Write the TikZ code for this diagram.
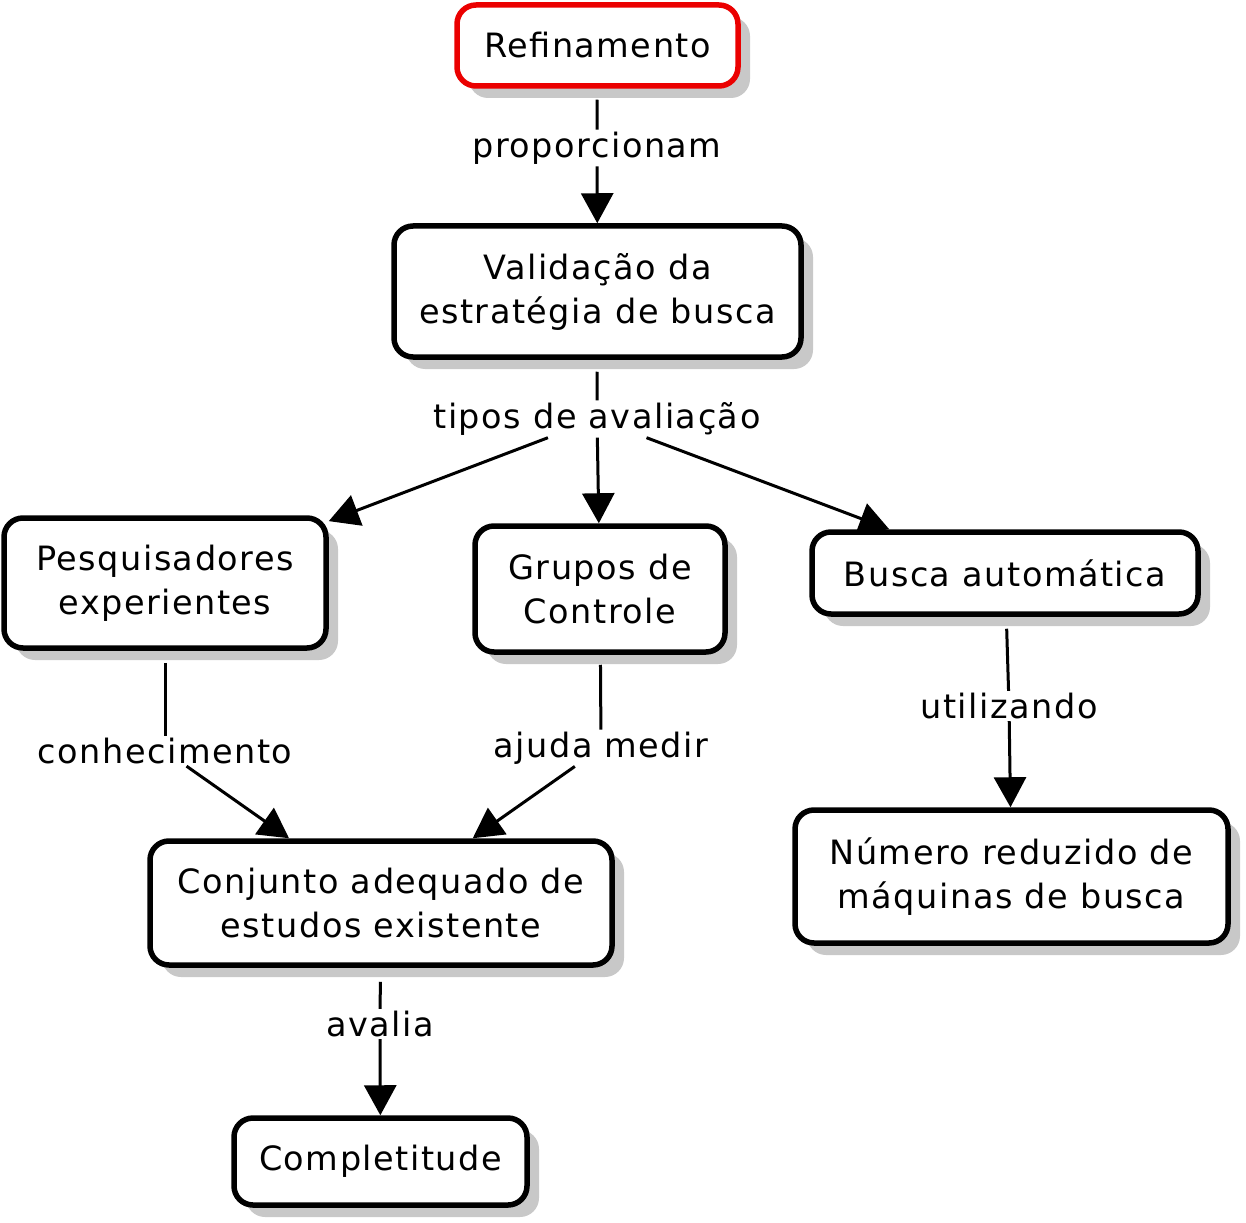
\documentclass[tikz,border=0pt]{standalone}
\usepackage{fontspec}
\setmainfont{DejaVu Sans}[LetterSpace=4.5]
\usetikzlibrary{arrows.meta,shadows}
\definecolor{shadowgray}{RGB}{200,200,200}
\definecolor{refred}{RGB}{235,0,0}
\tikzset{
  concept/.style={draw=black, line width=5.5pt, rounded corners=19pt, fill=white,
    align=center, inner sep=0pt,
    font=\fontsize{33.5}{44}\selectfont,
    drop shadow={shadow xshift=12pt, shadow yshift=-12pt, fill=shadowgray, opacity=1}},
  linkword/.style={inner sep=2pt, font=\fontsize{33.5}{44}\selectfont},
  conn/.style={line width=3pt, draw=black},
  arr/.style={conn, -{Triangle[length=30pt,width=32pt]}},
}
\begin{document}
\begin{tikzpicture}[x=1pt,y=-1pt]
\useasboundingbox (0,0) rectangle (1246,1222);

\node[concept, draw=refred, minimum width=281pt, minimum height=81pt] (ref) at (597.5,45.5) {Refinamento};
\node[concept, minimum width=407pt, minimum height=131pt] (val) at (597.5,291.5) {Validação da\\estratégia de busca};
\node[concept, minimum width=322pt, minimum height=130pt] (pes) at (165,583) {Pesquisadores\\experientes};
\node[concept, minimum width=250pt, minimum height=126pt] (gru) at (600,589) {Grupos de\\Controle};
\node[concept, minimum width=386pt, minimum height=82pt] (bus) at (1005,573) {Busca automática};
\node[concept, minimum width=462pt, minimum height=124pt] (con) at (381,903) {Conjunto adequado de\\estudos existente};
\node[concept, minimum width=433pt, minimum height=133pt] (num) at (1011.5,876.5) {Número reduzido de\\máquinas de busca};
\node[concept, minimum width=293pt, minimum height=87pt] (com) at (380.5,1161.5) {Completitude};

\node[linkword] (l1) at (597,148) {proporcionam};
\node[linkword] (l2) at (597,419) {tipos de avaliação};
\node[linkword] (l3) at (165,751) {conhecimento};
\node[linkword] (l4) at (601,748) {ajuda medir};
\node[linkword] (l5) at (1009,706) {utilizando};
\node[linkword] (l6) at (380,1024) {avalia};

\draw[conn, shorten <=11pt] (ref) -- (l1);
\draw[arr] (l1) -- (val);

\draw[conn, shorten <=12pt] (val) -- (l2);
\draw[arr] (l2) -- (pes);
\draw[arr] (l2) -- (gru);
\draw[arr] (l2) -- (bus);

\draw[conn, shorten <=12pt] (pes) -- (l3);
\draw[arr] (l3) -- (con);

\draw[conn, shorten <=10pt] (gru) -- (l4);
\draw[arr] (l4) -- (con);

\draw[conn, shorten <=12pt] (bus) -- (l5);
\draw[arr] (l5) -- (num);

\draw[conn, shorten <=14pt] (con) -- (l6);
\draw[arr] (l6) -- (com);
\end{tikzpicture}
\end{document}
